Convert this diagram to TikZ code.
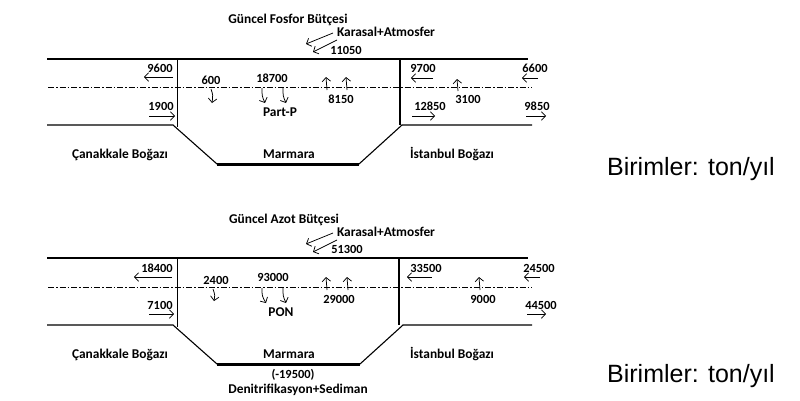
\documentclass[tikz,border=0pt]{standalone}
\usepackage{fontspec}
\setmainfont{Carlito}
\newfontfamily\arialf{Liberation Sans}
\usetikzlibrary{arrows.meta}
\begin{document}
\begin{tikzpicture}[x=1pt,y=-1pt,
  lbl/.style={font=\bfseries\fontsize{13.4}{14}\selectfont, inner sep=0pt, text height=8.6pt, text depth=0pt},
  num/.style={font=\bfseries\fontsize{12.4}{13}\selectfont, inner sep=0pt, text height=7.8pt, text depth=0pt},
  unit/.style={font=\arialf\fontsize{25}{28}\selectfont, inner sep=0pt, text height=18pt, text depth=0pt},
  wall/.style={line width=1.1pt},
  thin wall/.style={line width=0.8pt},
  floor/.style={line width=3pt},
  mid/.style={line width=0.9pt, dash pattern=on 6pt off 2pt on 1.5pt off 2pt},
  flow/.style={-{Straight Barb[length=4pt,width=8.5pt]}, line width=0.75pt}
]
\useasboundingbox (0,0) rectangle (800,400);

% ---------------- top: phosphorus ----------------
\coordinate (tA) at (47,59);  \coordinate (tB) at (528,59);
\coordinate (tC) at (48,87);  \coordinate (tD) at (532,87);
\coordinate (tE) at (47,125); \coordinate (tF) at (173,125);
\coordinate (tG) at (217,164); \coordinate (tH) at (359,164);
\coordinate (tI) at (402,125); \coordinate (tJ) at (532,125);
\draw[wall] (tA) -- (tB);
\draw[mid] (tC) -- (tD);
\draw[wall] (tE) -- (tF) -- (tG);
\draw[floor] (tG) -- (tH);
\draw[wall] (tH) -- (tI) -- (tJ);
\draw[thin wall] (177,59) -- (177,127);
\draw[wall] (400,59) -- (400,125);

\node[lbl] (t1) at (288,19) {Güncel Fosfor Bütçesi};
\node[lbl] (t2) at (386,32) {Karasal+Atmosfer};
\node[num] (t3) at (346,51) {11050};
\draw[flow] (333,33) -- (306,44);
\draw[flow] (337,40) -- (313,52);

\node[num] (t4) at (160,69) {9600};
\draw[flow] (173,77) -- (144,77);
\node[num] (t5) at (161,107) {1900};
\draw[flow] (149,116) -- (175,116);

\node[num] (t6) at (211,81) {600};
\draw[flow] (211,89) .. controls (213,95) .. (212,103);
\node[num] (t7) at (272,79) {18700};
\draw[flow] (262,88) .. controls (262,96) .. (265,103);
\draw[flow] (283,88) .. controls (283,96) .. (286,103);
\node[lbl] (t8) at (280,112) {Part-P};

\node[num] (t9) at (341,100) {8150};
\draw[flow] (327,90) -- (326,77);
\draw[flow] (347,90) -- (346,77);

\node[num] (t10) at (423,69) {9700};
\draw[flow] (433,78) -- (411,78);
\node[num] (t11) at (535,69) {6600};
\draw[flow] (538,78) -- (522,78);
\node[num] (t12) at (468,100) {3100};
\draw[flow] (458,91) -- (457,79);
\node[num] (t13) at (430,107) {12850};
\draw[flow] (412,116) -- (435,116);
\node[num] (t14) at (537,107) {9850};
\draw[flow] (526,116) -- (546,116);

\node[lbl] (t15) at (120,154) {Çanakkale Boğazı};
\node[lbl] (t16) at (289,154) {Marmara};
\node[lbl] (t17) at (452,154) {İstanbul Boğazı};
\node[unit] (t18) at (691,166) {Birimler: ton/yıl};

% ---------------- bottom: nitrogen ----------------
\coordinate (bA) at (47,258);  \coordinate (bB) at (528,258);
\coordinate (bC) at (48,287);  \coordinate (bD) at (532,287);
\coordinate (bE) at (47,325);  \coordinate (bF) at (173,325);
\coordinate (bG) at (217,364); \coordinate (bH) at (360,364);
\coordinate (bI) at (403,325); \coordinate (bJ) at (532,325);
\draw[wall] (bA) -- (bB);
\draw[mid] (bC) -- (bD);
\draw[wall] (bE) -- (bF) -- (bG);
\draw[floor] (bG) -- (bH);
\draw[wall] (bH) -- (bI) -- (bJ);
\draw[thin wall] (177,258) -- (177,327);
\draw[wall] (399,258) -- (399,325);

\node[lbl] (b1) at (284,219) {Güncel Azot Bütçesi};
\node[lbl] (b2) at (386,232) {Karasal+Atmosfer};
\node[num] (b3) at (347,250) {51300};
\draw[flow] (333,233) -- (306,244);
\draw[flow] (337,240) -- (313,252);

\node[num] (b4) at (157,269) {18400};
\draw[flow] (172,277) -- (134,277);
\node[num] (b5) at (160,306) {7100};
\draw[flow] (149,314) -- (174,314);

\node[num] (b6) at (216,281) {2400};
\draw[flow] (213,289) .. controls (215,295) .. (214,301);
\node[num] (b7) at (273,278) {93000};
\draw[flow] (262,288) .. controls (262,296) .. (266,303);
\draw[flow] (283,288) .. controls (283,296) .. (286,303);
\node[lbl] (b8) at (281,312) {PON};

\node[num] (b9) at (339,300) {29000};
\draw[flow] (327,290) -- (326,277);
\draw[flow] (348,290) -- (347,277);

\node[num] (b10) at (426,269) {33500};
\draw[flow] (432,277) -- (407,277);
\node[num] (b11) at (539,269) {24500};
\draw[flow] (540,277) -- (524,277);
\node[num] (b12) at (483,300) {9000};
\draw[flow] (480,290) -- (479,277);
\node[num] (b13) at (541,306) {44500};
\draw[flow] (527,314) -- (546,314);

\node[lbl] (b15) at (120,354) {Çanakkale Boğazı};
\node[lbl] (b16) at (289,354) {Marmara};
\node[lbl] (b17) at (452,354) {İstanbul Boğazı};
\node[num] (b19) at (293,375) {(-19500)};
\node[lbl] (b20) at (298,389) {Denitrifikasyon+Sediman};
\node[unit] (b18) at (691,373) {Birimler: ton/yıl};
\end{tikzpicture}
\end{document}
